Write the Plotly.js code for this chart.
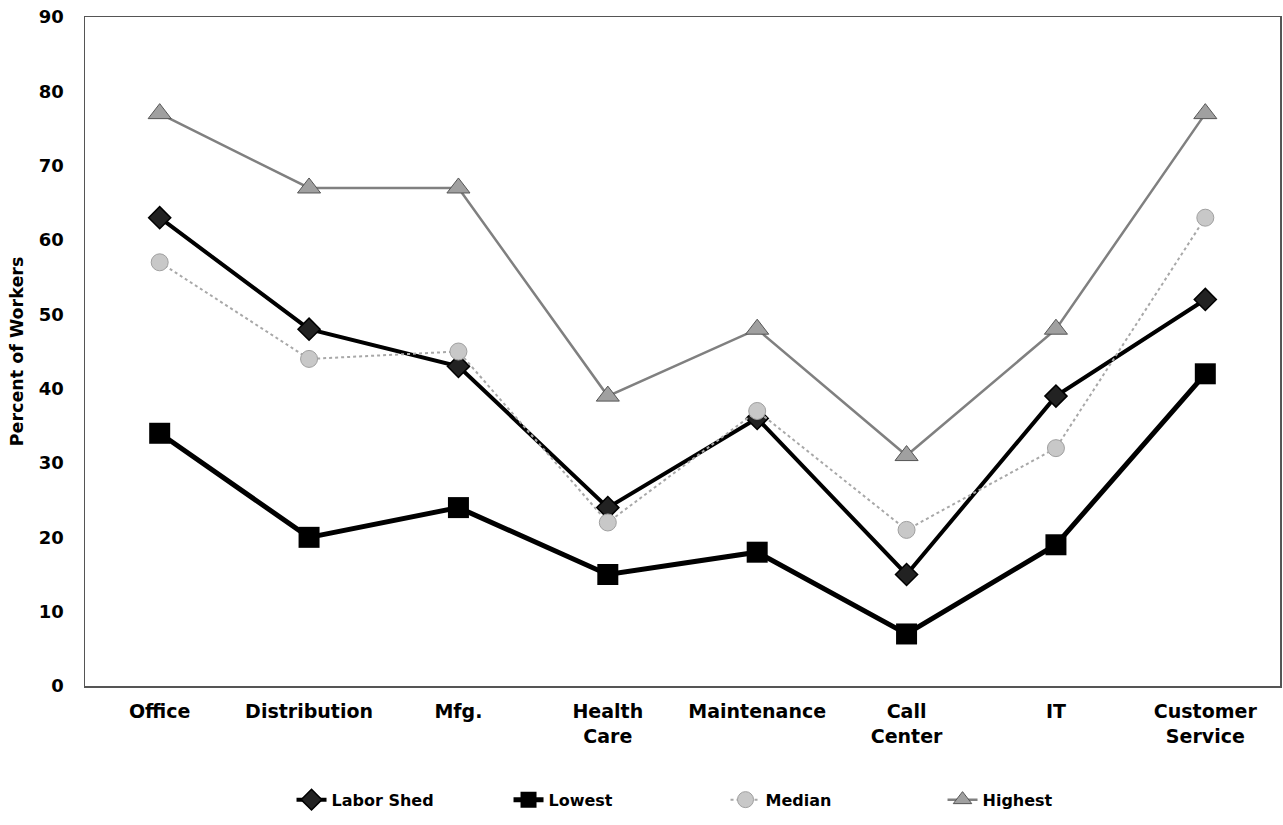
<!DOCTYPE html>
<html><head><meta charset="utf-8">
<script src="https://cdn.plot.ly/plotly-3.0.1.min.js"></script>
<style>body{margin:0;background:#fff}#c{width:1283px;height:825px}</style>
</head><body><div id="c"></div>
<script>
const categories = ["Office","Distribution","Mfg.","Health<br>Care","Maintenance","Call<br>Center","IT","Customer<br>Service"];
const laborShed = [63,48,43,24,36,15,39,52];
const lowest = [34,20,24,15,18,7,19,42];
const median = [57,44,45,22,37,21,32,63];
const highest = [77,67,67,39,48,31,48,77];
const yTicks = [0,10,20,30,40,50,60,70,80,90];

const traces = [
 {name:"Labor Shed", x:categories, y:laborShed, mode:"lines+markers",
  line:{color:"#000",width:4}, marker:{symbol:"diamond",size:17,color:"#222",line:{color:"#000",width:1.5}}},
 {name:"Lowest", x:categories, y:lowest, mode:"lines+markers",
  line:{color:"#000",width:5}, marker:{symbol:"square",size:21,color:"#000"}},
 {name:"Median", x:categories, y:median, mode:"lines+markers",
  line:{color:"#a8a8a8",width:2,dash:"dot"}, marker:{symbol:"circle",size:17,color:"#c8c8c8",line:{color:"#a0a0a0",width:1}}},
 {name:"Highest", x:categories, y:highest, mode:"lines+markers",
  line:{color:"#808080",width:2.5}, marker:{symbol:"triangle-up",size:20,color:"#a0a0a0",line:{color:"#555",width:1}}}
];
const fam = "DejaVu Sans, Arial, sans-serif";
Plotly.newPlot("c", traces, {
 width:1283, height:825, paper_bgcolor:"#fff", plot_bgcolor:"#fff",
 margin:{l:85,r:3,t:17,b:139},
 font:{family:fam,color:"#000"},
 showlegend:true,
 legend:{orientation:"h", x:0.536, xanchor:"center", y:-0.17, yanchor:"middle",
   font:{family:fam,size:16,color:"#000",weight:"bold"}, entrywidth:172, entrywidthmode:"pixels"},
 xaxis:{type:"category", range:[-0.5,7.5], showgrid:false, zeroline:false,
   showline:true, mirror:true, linecolor:"#555", linewidth:1.5, ticks:"",
   tickfont:{family:fam,size:19,color:"#000",weight:"bold"}, ticklabelstandoff:8},
 yaxis:{range:[0,90], tickvals:yTicks, showgrid:false, zeroline:false,
   showline:true, mirror:true, linecolor:"#555", linewidth:1.5, ticks:"",
   tickfont:{family:fam,size:18,color:"#000",weight:"bold"}, ticklabelstandoff:16,
   title:{text:"Percent of Workers", font:{family:fam,size:17.5,color:"#000",weight:"bold"}, standoff:10}}
}, {displayModeBar:false, staticPlot:true});
</script></body></html>
